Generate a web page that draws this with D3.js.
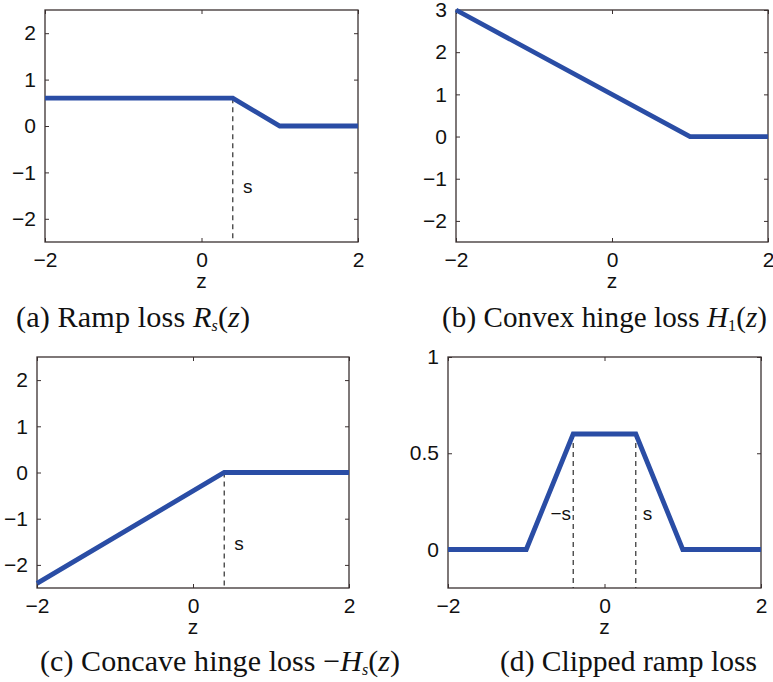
<!DOCTYPE html>
<html><head><meta charset="utf-8">
<script src="https://cdn.jsdelivr.net/npm/d3@7"></script>
<style>body{margin:0;background:#fff}svg{display:block}</style>
</head><body>
<svg id="c" width="773" height="682"></svg>
<script>
// ---- data ----
const zDomain = [-2, 2];
const xTicks = [-2, 0, 2];
const sVal = 0.4;

const rampZ = [-2, 0.4, 1, 2];
const rampV = [0.6, 0.6, 0, 0];

const hingeZ = [-2, 1, 2];
const hingeV = [3, 0, 0];

const concaveZ = [-2, 0.4, 2];
const concaveV = [-2.4, 0, 0];

const clipZ = [-2, -1, -0.4, 0.4, 1, 2];
const clipV = [0, 0, 0.6, 0.6, 0, 0];

const yTicksA = [-2, -1, 0, 1, 2];
const yTicksB = [-2, -1, 0, 1, 2, 3];
const yTicksC = [-2, -1, 0, 1, 2];
const yTicksD = [0, 0.5, 1];

const captions = [
  ["(a) Ramp loss ", "R", "s", "(", "z", ")"],
  ["(b) Convex hinge loss ", "H", "1", "(", "z", ")"],
  ["(c) Concave hinge loss \u2212", "H", "s", "(", "z", ")"],
  ["(d) Clipped ramp loss"]
];

// ---- layout ----
const panels = [
  {x0:45, x1:358, y0:10, y1:242, yDom:[-2.5,2.5], yTicks:yTicksA, z:rampZ, v:rampV,
   dashes:[{z:sVal, top:0.6}], ann:[{z:0.59, v:-1.32, t:"s"}], cap:captions[0], capX:16, capW:234, capY:327},
  {x0:456, x1:768, y0:10, y1:242, yDom:[-2.5,3], yTicks:yTicksB, z:hingeZ, v:hingeV,
   dashes:[], ann:[], cap:captions[1], capX:442, capW:325, capY:327},
  {x0:37, x1:349, y0:357, y1:588, yDom:[-2.5,2.5], yTicks:yTicksC, z:concaveZ, v:concaveV,
   dashes:[{z:sVal, top:0}], ann:[{z:0.59, v:-1.55, t:"s"}], cap:captions[2], capX:40, capW:360, capY:671},
  {x0:448, x1:761, y0:357, y1:588, yDom:[-0.2,1], yTicks:yTicksD, z:clipZ, v:clipV,
   dashes:[{z:-sVal, top:0.6},{z:sVal, top:0.6}],
   ann:[{z:-0.56, v:0.185, t:"\u2212s"},{z:0.55, v:0.185, t:"s"}], cap:captions[3], capX:500, capW:257, capY:671}
];

const svg = d3.select("#c");
const boxColor = "#3a3030";
const lineColor = "#2a4da5";
const tickFont = "'Liberation Sans', Arial, Helvetica, sans-serif";
const fmt = d => (d < 0 ? "\u2212" + Math.abs(d) : String(d));

panels.forEach(p => {
  const x = d3.scaleLinear().domain(zDomain).range([p.x0, p.x1]);
  const y = d3.scaleLinear().domain(p.yDom).range([p.y1, p.y0]);
  const g = svg.append("g");

  const tl = 4;
  const styleAxis = sel => {
    sel.select(".domain").remove();
    sel.selectAll(".tick line").attr("stroke", boxColor).attr("stroke-width", 1);
    sel.selectAll("text").attr("font-family", tickFont).attr("font-size", 21).attr("fill", "#111");
  };
  g.append("g").attr("transform", `translate(0,${p.y1})`)
    .call(d3.axisBottom(x).tickValues(xTicks).tickSizeInner(-tl).tickSizeOuter(0).tickPadding(10).tickFormat(fmt))
    .call(styleAxis);
  g.append("g").attr("transform", `translate(0,${p.y0})`)
    .call(d3.axisTop(x).tickValues(xTicks).tickSizeInner(-tl).tickSizeOuter(0).tickFormat(""))
    .call(styleAxis);
  g.append("g").attr("transform", `translate(${p.x0},0)`)
    .call(d3.axisLeft(y).tickValues(p.yTicks).tickSizeInner(-tl).tickSizeOuter(0).tickPadding(9).tickFormat(fmt))
    .call(styleAxis);
  g.append("g").attr("transform", `translate(${p.x1},0)`)
    .call(d3.axisRight(y).tickValues(p.yTicks).tickSizeInner(-tl).tickSizeOuter(0).tickFormat(""))
    .call(styleAxis);

  g.append("rect").attr("x", p.x0).attr("y", p.y0)
    .attr("width", p.x1 - p.x0).attr("height", p.y1 - p.y0)
    .attr("fill", "none").attr("stroke", boxColor).attr("stroke-width", 1.3);

  g.append("text").attr("x", x(0)).attr("y", p.y1 + 46)
    .attr("text-anchor", "middle").attr("font-family", tickFont).attr("font-size", 21)
    .attr("fill", "#111").text("z");

  p.dashes.forEach(d => {
    g.append("line").attr("x1", x(d.z)).attr("x2", x(d.z))
      .attr("y1", y(d.top)).attr("y2", y(p.yDom[0]))
      .attr("stroke", "#1a1a1a").attr("stroke-width", 1.1).attr("stroke-dasharray", "5,4");
  });

  const pts = p.z.map((z, i) => [z, p.v[i]]);
  g.append("path").datum(pts)
    .attr("d", d3.line().x(d => x(d[0])).y(d => y(d[1])))
    .attr("fill", "none").attr("stroke", lineColor).attr("stroke-width", 4.8)
    .attr("stroke-linejoin", "miter");

  p.ann.forEach(a => {
    g.append("text").attr("x", x(a.z)).attr("y", y(a.v) + 6)
      .attr("text-anchor", "middle").attr("font-family", tickFont).attr("font-size", 19)
      .attr("fill", "#111").text(a.t);
  });

  const t = svg.append("text").attr("x", p.capX).attr("y", p.capY)
    .attr("font-family", "'Liberation Serif', 'DejaVu Serif', serif").attr("font-size", 23).attr("fill", "#111");
  const c = p.cap;
  t.append("tspan").text(c[0]);
  if (c.length > 1) {
    t.append("tspan").attr("font-style", "italic").text(c[1]);
    t.append("tspan").attr("font-size", 16).attr("dy", 4).attr("font-style", c[2] === "s" ? "italic" : "normal").text(c[2]);
    t.append("tspan").attr("dy", -4).text(c[3]);
    t.append("tspan").attr("font-style", "italic").text(c[4]);
    t.append("tspan").text(c[5]);
  }
  const w = t.node().getComputedTextLength();
  t.attr("textLength", p.capW).attr("lengthAdjust", "spacing");
  if (Math.abs(w - p.capW) > 30) {
    t.attr("font-size", 23 * p.capW / w);
  }
});
</script>
</body></html>
